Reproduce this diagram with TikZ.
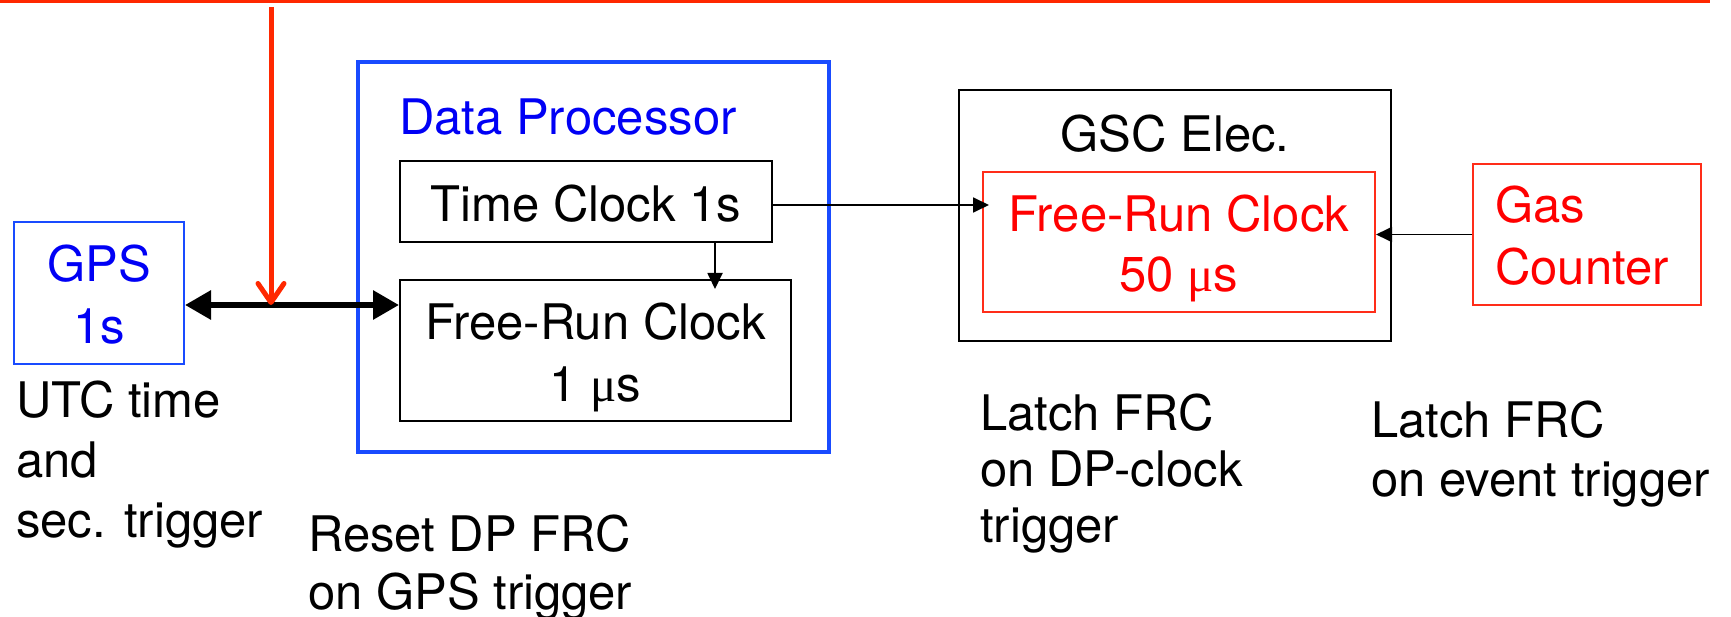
\documentclass[tikz,border=0pt]{standalone}
\usepackage{fontspec}
\setmainfont{TeX Gyre Heros}
\newfontfamily\greekserif{Liberation Serif}
\usetikzlibrary{arrows.meta}
\definecolor{boxblue}{RGB}{25,75,255}
\definecolor{txtblue}{RGB}{0,0,245}
\definecolor{linered}{RGB}{255,40,0}
\definecolor{boxred}{RGB}{255,45,25}
\definecolor{txtred}{RGB}{255,0,0}
\newcommand{\muchar}{{\greekserif μ}}
\begin{document}
\begin{tikzpicture}[x=1pt,y=-1pt,
  txt/.style={inner sep=0pt, font=\fontsize{49pt}{#1}\selectfont},
  frame/.style={draw, inner sep=0pt, line width=2pt},
  blueframe/.style={frame, draw=boxblue},
  redframe/.style={frame, draw=boxred},
  thinarrow/.style={line width=1.8pt, -{Triangle[length=16pt,width=15pt]}},
  thickarrow/.style={line width=6pt, {Triangle[length=26pt,width=28pt]}-{Triangle[length=26pt,width=28pt]}},
  redarrow/.style={draw=linered, line width=5pt, -{Straight Barb[length=19pt,width=26pt,round]}},
  redline/.style={draw=linered, line width=4pt}
]
\useasboundingbox (0,0) rectangle (1731,617);

% top red line
\coordinate (topL) at (0,1.5);
\coordinate (topR) at (1710,1.5);
\draw[redline] (topL) -- (topR);

% boxes
\node[blueframe, minimum width=170pt, minimum height=142pt] (gps) at (99,293) {};
\node[blueframe, line width=3.5pt, minimum width=471pt, minimum height=390pt] (dp) at (593.5,257) {};
\node[frame, minimum width=372pt, minimum height=81pt] (tc) at (586,201.5) {};
\node[frame, minimum width=391pt, minimum height=141pt] (frc) at (595.5,350.5) {};
\node[frame, minimum width=432pt, minimum height=251pt] (gsc) at (1175,215.5) {};
\node[redframe, minimum width=392pt, minimum height=140pt] (inner) at (1179,242) {};
\node[redframe, minimum width=228pt, minimum height=141pt] (gas) at (1587,234.5) {};

% texts in boxes (anchor base = baseline of last line)
\node[txt=62pt, align=center, anchor=base, text=txtblue] (gpst) at (99,343) {GPS\\1s};
\node[txt=62pt, anchor=base west, text=txtblue] (dpt) at (399,135) {Data Processor};
\node[txt=62pt, anchor=base] (tct) at (586,222) {Time Clock 1s};
\node[txt=62pt, align=center, anchor=base] (frct) at (595.5,401) {Free-Run Clock\\1 \muchar s};
\node[txt=62pt, anchor=base] (gsct) at (1175,152) {GSC Elec.};
\node[txt=60pt, align=center, anchor=base, text=txtred] (innert) at (1179,292) {Free-Run Clock\\50 \muchar s};
\node[txt=62pt, align=left, anchor=base west, text=txtred] (gast) at (1495,285) {Gas\\Counter};

% free labels
\node[txt=60pt, align=left, anchor=base west] (utc) at (16,537) {UTC time\\and\\sec. trigger};
\node[txt=58pt, align=left, anchor=base west] (reset) at (308,609) {Reset DP FRC\\on GPS trigger};
\node[txt=56pt, align=left, anchor=base west] (latch1) at (980,542) {Latch FRC\\on DP-clock\\trigger};
\node[txt=59pt, align=left, anchor=base west] (latch2) at (1371,496) {Latch FRC\\on event trigger};

% connectors
\coordinate (rowA) at (0,205);
\coordinate (rowB) at (0,305);
\coordinate (colA) at (715,0);
\coordinate (redtop) at (271,7);
\draw[thinarrow, shorten >=-7pt] (tc.east |- rowA) -- (inner.west |- rowA);
\draw[thinarrow, shorten >=-10pt] (colA |- tc.south) -- (colA |- frc.north);
\draw[thinarrow] (gas.west) -- (gas.west -| inner.east);
\draw[thickarrow] (gps.east |- rowB) -- (frc.west |- rowB);
\draw[redarrow] (redtop) -- (redtop |- rowB);
\end{tikzpicture}
\end{document}
